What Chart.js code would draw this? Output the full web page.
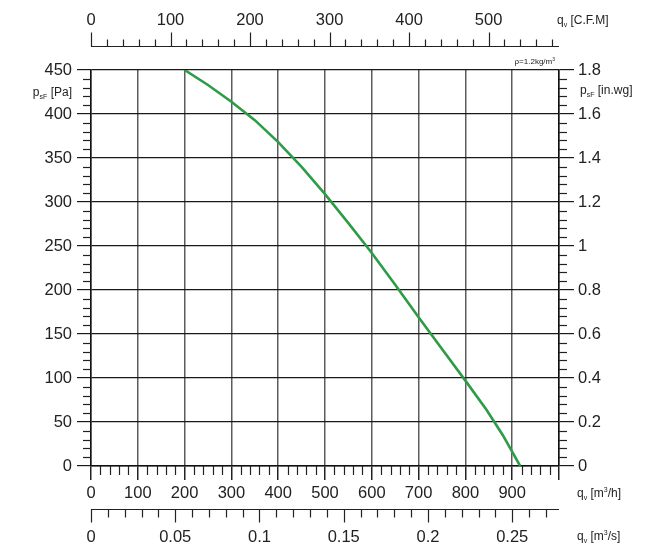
<!DOCTYPE html>
<html>
<head>
<meta charset="utf-8">
<script src="https://cdn.jsdelivr.net/npm/chart.js@4.4.1/dist/chart.umd.min.js"></script>
<style>
  html, body { margin: 0; padding: 0; background: #fff; }
</style>
</head>
<body>
<canvas id="fanChart" width="662" height="551"></canvas>
<script>
// fan curve: flow in m3/h, static pressure in Pa
const flowM3h    = [200, 250, 300, 350, 400, 450, 500, 550, 600, 650, 700, 750, 800, 845, 880, 917];
const pressurePa = [450, 433, 414, 393, 368, 340, 309, 276, 242, 206, 169, 133,  97,  64,  35,   0];

// tick labels
const m3hTicks  = [0, 100, 200, 300, 400, 500, 600, 700, 800, 900];
const paTicks   = [0, 50, 100, 150, 200, 250, 300, 350, 400, 450];
const inwgTicks = ['0', '0.2', '0.4', '0.6', '0.8', '1', '1.2', '1.4', '1.6', '1.8'];
const cfmTicks  = [0, 100, 200, 300, 400, 500];
const m3sTicks  = [0, 0.05, 0.1, 0.15, 0.2, 0.25];

const CFM_TO_M3H = 1.699;
const M3S_TO_M3H = 3600;

const FONT = 'Liberation Sans, Arial, sans-serif';
const TXT = '#222';
const TICK_SIZE = 16.5;

function seg(ctx, x1, y1, x2, y2) {
    ctx.beginPath();
    ctx.moveTo(x1, y1);
    ctx.lineTo(x2, y2);
    ctx.stroke();
}

// text with optional sub/superscript pieces: [[text, 'n'|'sub'|'sup'], ...]
function richText(ctx, parts, x, y, size, align) {
    const small = Math.round(size * 0.6);
    let w = 0;
    parts.forEach(p => {
        ctx.font = (p[1] === 'n' ? size : small) + 'px ' + FONT;
        w += ctx.measureText(p[0]).width;
    });
    let cx = align === 'right' ? x - w : x;
    ctx.textAlign = 'left';
    ctx.textBaseline = 'alphabetic';
    parts.forEach(p => {
        const s = p[1] === 'n' ? size : small;
        ctx.font = s + 'px ' + FONT;
        let dy = 0;
        if (p[1] === 'sub') dy = size * 0.22;
        if (p[1] === 'sup') dy = -size * 0.4;
        ctx.fillText(p[0], cx, y + dy);
        cx += ctx.measureText(p[0]).width;
    });
}

const extraAxes = {
    id: 'extraAxes',
    afterDraw(chart) {
        const { ctx, chartArea: a } = chart;
        const x = chart.scales.x, y = chart.scales.y, y2 = chart.scales.y2;
        const px = v => Math.round(x.getPixelForValue(v)) + 0.5;
        ctx.save();
        ctx.strokeStyle = '#222';
        ctx.fillStyle = TXT;
        ctx.lineWidth = 1.2;

        // minor ticks on pressure axes (10 Pa / 0.04 in.wg)
        for (let v = 10; v < 450; v += 10) {
            if (v % 50 === 0) continue;
            const p = Math.round(y.getPixelForValue(v)) + 0.5;
            seg(ctx, a.left - 8, p, a.left, p);
        }
        for (let v = 0.04; v < 1.8; v += 0.04) {
            if (Math.abs(v * 5 - Math.round(v * 5)) < 1e-6) continue;
            const p = Math.round(y2.getPixelForValue(v)) + 0.5;
            seg(ctx, a.right, p, a.right + 8, p);
        }
        // minor ticks on m3/h axis
        for (let v = 20; v < 1000; v += 20) {
            if (v % 100 === 0) continue;
            seg(ctx, px(v), a.bottom, px(v), a.bottom + 9);
        }

        // top axis in C.F.M
        const topY = 46.5;
        seg(ctx, a.left, topY, a.right, topY);
        for (let c = 0; c <= 580; c += 20) {
            const p = px(c * CFM_TO_M3H);
            seg(ctx, p, topY, p, topY - (c % 100 === 0 ? 14 : 7));
        }
        ctx.font = TICK_SIZE + 'px ' + FONT;
        ctx.textAlign = 'center';
        ctx.textBaseline = 'middle';
        cfmTicks.forEach(c => ctx.fillText(String(c), x.getPixelForValue(c * CFM_TO_M3H), 20));

        // bottom axis in m3/s
        const botY = 509.5;
        seg(ctx, a.left, botY, a.right, botY);
        for (let i = 0; i <= 27; i++) {
            const p = px(i / 100 * M3S_TO_M3H);
            seg(ctx, p, botY, p, botY + (i % 5 === 0 ? 13 : 8));
        }
        m3sTicks.forEach(s => ctx.fillText(String(s), x.getPixelForValue(s * M3S_TO_M3H), 537));

        // axis titles
        richText(ctx, [['q', 'n'], ['v', 'sub'], [' [C.F.M]', 'n']], 557, 24, 12, 'left');
        richText(ctx, [['q', 'n'], ['v', 'sub'], [' [m', 'n'], ['3', 'sup'], ['/h]', 'n']], 577, 497, 12, 'left');
        richText(ctx, [['q', 'n'], ['v', 'sub'], [' [m', 'n'], ['3', 'sup'], ['/s]', 'n']], 577, 540, 12, 'left');
        richText(ctx, [['p', 'n'], ['sF', 'sub'], [' [Pa]', 'n']], 72, 96, 12, 'right');
        richText(ctx, [['p', 'n'], ['sF', 'sub'], [' [in.wg]', 'n']], 580, 94, 12, 'left');
        richText(ctx, [['\u03c1=1.2kg/m', 'n'], ['3', 'sup']], 555, 64, 8, 'right');

        ctx.restore();
    }
};

const tickFont = { family: FONT, size: TICK_SIZE };

new Chart(document.getElementById('fanChart'), {
    type: 'line',
    data: {
        datasets: [{
            data: flowM3h.map((q, i) => ({ x: q, y: pressurePa[i] })),
            borderColor: '#2e9b47',
            borderWidth: 2.6,
            pointRadius: 0,
            tension: 0,
            fill: false,
            xAxisID: 'x',
            yAxisID: 'y'
        }]
    },
    options: {
        responsive: false,
        animation: false,
        devicePixelRatio: 1,
        layout: { padding: { left: 41, right: 43, top: 70, bottom: 45 } },
        plugins: { legend: { display: false }, tooltip: { enabled: false } },
        scales: {
            x: {
                type: 'linear',
                min: 0,
                max: 1000,
                afterBuildTicks: s => { s.ticks = m3hTicks.concat([1000]).map(v => ({ value: v })); },
                afterFit: s => { s.height = 40; },
                ticks: {
                    autoSkip: false,
                    maxRotation: 0,
                    padding: 4,
                    font: tickFont,
                    color: TXT,
                    callback: v => (m3hTicks.includes(v) ? String(v) : '')
                },
                grid: { color: '#5c5c5c', lineWidth: 1.5, tickLength: 14, tickColor: '#222' },
                border: { color: '#111', width: 1.5 }
            },
            y: {
                type: 'linear',
                position: 'left',
                min: 0,
                max: 450,
                afterBuildTicks: s => { s.ticks = paTicks.map(v => ({ value: v })); },
                afterFit: s => { s.width = 50; },
                ticks: { padding: 5, font: tickFont, color: TXT, callback: v => String(v) },
                grid: { color: '#1a1a1a', lineWidth: 1.2, tickLength: 14 },
                border: { color: '#111', width: 1.5 }
            },
            y2: {
                type: 'linear',
                position: 'right',
                min: 0,
                max: 1.8,
                afterBuildTicks: s => { s.ticks = inwgTicks.map(v => ({ value: parseFloat(v) })); },
                afterFit: s => { s.width = 60; },
                ticks: { padding: 4, font: tickFont, color: TXT, callback: (v, i) => inwgTicks[i] },
                grid: { drawOnChartArea: false, color: '#1a1a1a', lineWidth: 1.2, tickLength: 15 },
                border: { color: '#111', width: 1.5 }
            }
        }
    },
    plugins: [extraAxes]
});
</script>
</body>
</html>
